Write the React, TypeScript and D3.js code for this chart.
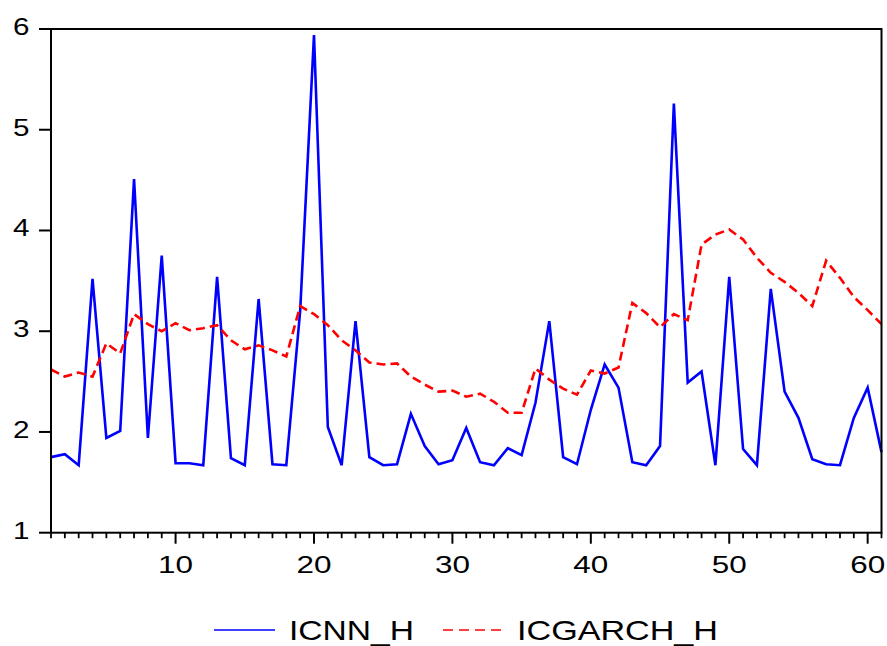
import React from "react";
import * as d3 from "d3";

const periods: number[] = d3.range(1, 62);
const icnnH: number[] = [
  1.75, 1.78, 1.67, 3.52, 1.94, 2.01, 4.51, 1.94, 3.75, 1.69,
  1.69, 1.67, 3.54, 1.74, 1.67, 3.32, 1.68, 1.67, 3.2, 5.94,
  2.05, 1.67, 3.10, 1.75, 1.67, 1.68, 2.18, 1.86, 1.68, 1.72,
  2.04, 1.70, 1.67, 1.84, 1.77, 2.29, 3.10, 1.75, 1.68, 2.22,
  2.67, 2.44, 1.70, 1.67, 1.86, 5.26, 2.49, 2.60, 1.67, 3.54,
  1.83, 1.67, 3.42, 2.40, 2.14, 1.73, 1.68, 1.67, 2.14, 2.44, 1.80,
];
const icgarchH: number[] = [
  2.62, 2.55, 2.59, 2.55, 2.88, 2.78, 3.17, 3.07, 3.00, 3.08,
  3.01, 3.03, 3.06, 2.91, 2.82, 2.86, 2.81, 2.75, 3.25, 3.17,
  3.06, 2.91, 2.81, 2.69, 2.67, 2.68, 2.55, 2.47, 2.40, 2.41,
  2.35, 2.38, 2.30, 2.19, 2.19, 2.63, 2.52, 2.43, 2.37, 2.61,
  2.58, 2.64, 3.28, 3.18, 3.04, 3.17, 3.11, 3.86, 3.96, 4.01,
  3.91, 3.73, 3.58, 3.49, 3.38, 3.25, 3.70, 3.53, 3.34, 3.21, 3.07,
];
const yTicks: number[] = [1, 2, 3, 4, 5, 6];
const xMajorTicks: number[] = [10, 20, 30, 40, 50, 60];
const seriesNames: string[] = ["ICNN_H", "ICGARCH_H"];

const W = 887;
const H = 646;
const L = 51;
const R = 881.5;
const T = 29;
const B = 532.7;

export default function App() {
  const x = d3.scaleLinear().domain([1, 61]).range([L, R]);
  const y = d3.scaleLinear().domain([1, 6]).range([B, T]);
  const line = (vals: number[]) =>
    d3
      .line<number>()
      .x((_, i) => x(periods[i]))
      .y((v) => y(v))(vals) || "";

  const font = "'Liberation Sans', Arial, sans-serif";

  return (
    <svg
      width={W}
      height={H}
      style={{ position: "absolute", left: 0, top: 0, background: "#fff" }}
    >
      <rect x={0} y={0} width={W} height={H} fill="#fff" />
      {/* series */}
      <path d={line(icnnH)} fill="none" stroke="#0000FF" strokeWidth={2.6} strokeLinejoin="miter" />
      <path
        d={line(icgarchH)}
        fill="none"
        stroke="#FF0000"
        strokeWidth={2.6}
        strokeDasharray="9,5"
      />
      {/* frame */}
      <rect x={L} y={T} width={R - L} height={B - T} fill="none" stroke="#000" strokeWidth={2} />
      {/* y ticks */}
      {yTicks.map((t) => (
        <g key={"y" + t}>
          <line x1={39} x2={L} y1={y(t)} y2={y(t)} stroke="#000" strokeWidth={2} />
          <text
            x={29.5}
            y={y(t) + 5.8}
            textAnchor="end"
            fontFamily={font}
            fontSize={24.5}
            textLength={16.5}
            lengthAdjust="spacingAndGlyphs"
            fill="#000"
          >
            {t}
          </text>
        </g>
      ))}
      {/* x ticks */}
      {periods.map((p) => {
        const major = xMajorTicks.includes(p);
        return (
          <line
            key={"x" + p}
            x1={x(p)}
            x2={x(p)}
            y1={B}
            y2={B + (major ? 11 : 5.5)}
            stroke="#000"
            strokeWidth={major ? 2 : 1.8}
          />
        );
      })}
      {xMajorTicks.map((t) => (
        <text
          key={"xl" + t}
          x={x(t)}
          y={B + 40}
          textAnchor="middle"
          fontFamily={font}
          fontSize={24.5}
          textLength={35}
          lengthAdjust="spacingAndGlyphs"
          fill="#000"
        >
          {t}
        </text>
      ))}
      {/* legend */}
      <line x1={214} x2={275} y1={630} y2={630} stroke="#0000FF" strokeWidth={1.6} />
      <text
        x={289}
        y={639.5}
        fontFamily={font}
        fontSize={27.5}
        textLength={125}
        lengthAdjust="spacingAndGlyphs"
        fill="#000"
      >
        {seriesNames[0]}
      </text>
      <line
        x1={443}
        x2={501}
        y1={630}
        y2={630}
        stroke="#FF0000"
        strokeWidth={1.6}
        strokeDasharray="10,6"
      />
      <text
        x={517}
        y={639.5}
        fontFamily={font}
        fontSize={27.5}
        textLength={201}
        lengthAdjust="spacingAndGlyphs"
        fill="#000"
      >
        {seriesNames[1]}
      </text>
    </svg>
  );
}
